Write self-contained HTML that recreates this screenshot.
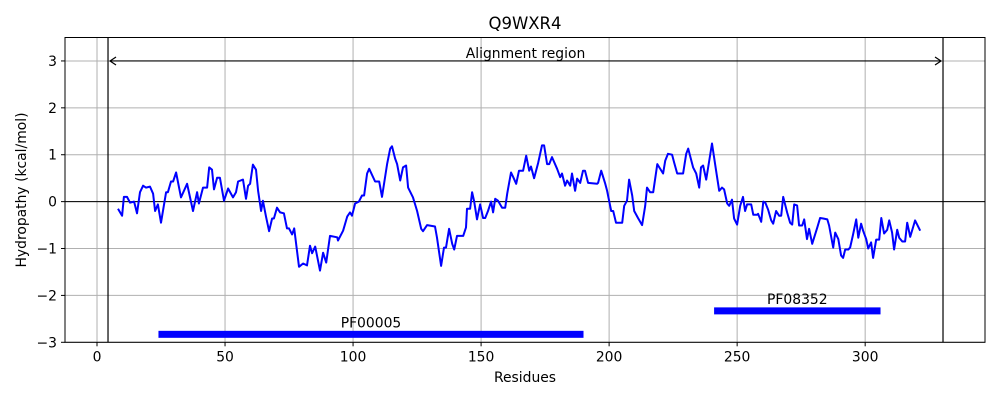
<!DOCTYPE html>
<html><head><meta charset="utf-8"><style>
html,body{margin:0;padding:0;background:#fff;}
svg{display:block;font-family:"DejaVu Sans","Liberation Sans",sans-serif;}
</style></head><body>
<svg id="chart" width="1000" height="400" viewBox="0 0 1000 400"></svg>
<script>
const residues=[8.2,9.8,10.5,11.7,12.9,14.5,15.6,16.8,18,19.1,20.7,21.9,22.7,23.8,25,27,27.7,28.9,29.7,30.9,32.8,35.2,37.5,39.1,39.8,41.4,43,43.8,44.9,45.7,46.9,48,49.6,51.2,53.1,54.3,55.1,57,58.2,59,59.8,60.9,62.1,62.9,64.1,64.8,66,67.2,68.4,69.1,70.3,71.5,73,74.2,75,76.2,77,78.9,80.5,82,83.2,84,85.2,87.1,88.3,89.5,91,93.8,94.1,96.1,97.7,98.8,99.6,100.8,102.3,103.5,104.3,105.5,106.3,108.6,110.2,111.3,113.3,114.5,115.2,116.4,117.2,118.4,119.5,120.7,121.5,123.4,125,126.6,127.3,128.9,132,132.8,134.4,135.5,136.3,137.5,138.7,139.5,140.6,143,144.1,144.5,145.7,146.5,147.3,148.4,149.6,150.8,151.6,152.7,153.9,154.7,155.5,156.6,158.2,159.4,160.2,161.7,162.5,163.7,164.8,166.4,167.6,168.8,169.5,170.7,172.3,173.8,174.6,175.8,176.6,177.7,179.7,180.9,181.6,182.8,183.6,184.8,185.5,186.7,187.5,188.7,189.8,190.6,191.8,195.3,195.7,196.9,198.4,199.2,200.8,201.6,202.7,205.1,205.9,207,207.8,209,209.8,211.3,212.9,214.1,214.8,216,217.2,218.8,221.1,221.9,223,224.6,225.4,226.6,228.9,230.1,230.9,232.8,234,235.2,235.9,236.7,237.9,240.2,241.8,243,244.1,244.9,246.1,246.9,248,248.8,250,251.2,252.3,253.1,253.9,255.5,256.3,257.8,258.2,259.4,260.2,261,262.1,263.3,264.1,265.2,266.4,267.2,268,269.5,270.7,271.5,272.3,273.4,274.2,275.4,276.2,277.3,278.1,279.3,281.3,282.4,283.6,285.2,285.9,287.5,288.3,289.5,290.6,291.4,292.2,293.4,294.1,295.3,296.5,297.3,298.4,299.2,300.4,301.2,302.3,303.1,304.3,305.5,306.3,307.4,308.6,309.4,310.5,311.3,312.5,313.3,314.5,315.6,316.4,317.6,318.8,319.5,321.5];
const hydropathy=[-0.15,-0.3,0.1,0.1,-0.02,0,-0.25,0.2,0.34,0.3,0.32,0.17,-0.2,-0.06,-0.45,0.2,0.2,0.43,0.43,0.62,0.09,0.38,-0.2,0.2,-0.04,0.3,0.3,0.73,0.68,0.26,0.51,0.51,0.02,0.28,0.09,0.2,0.43,0.47,0.06,0.34,0.38,0.79,0.68,0.23,-0.2,0.02,-0.32,-0.63,-0.36,-0.36,-0.13,-0.23,-0.25,-0.57,-0.57,-0.7,-0.57,-1.39,-1.32,-1.36,-0.94,-1.1,-0.96,-1.47,-1.09,-1.3,-0.73,-0.76,-0.83,-0.62,-0.32,-0.23,-0.3,-0.04,0,0.13,0.13,0.6,0.7,0.43,0.43,0.1,0.8,1.13,1.18,0.92,0.8,0.45,0.73,0.77,0.3,0.09,-0.2,-0.58,-0.63,-0.5,-0.53,-0.77,-1.37,-0.98,-0.98,-0.58,-0.9,-1.02,-0.73,-0.73,-0.55,-0.15,-0.15,0.2,0,-0.38,-0.06,-0.35,-0.35,-0.2,0,-0.23,0.06,0.02,-0.13,-0.13,0.17,0.62,0.53,0.38,0.66,0.66,0.98,0.66,0.75,0.5,0.83,1.2,1.2,0.8,0.8,0.95,0.7,0.52,0.6,0.34,0.45,0.34,0.6,0.23,0.49,0.4,0.66,0.66,0.4,0.38,0.4,0.66,0.4,0.23,-0.2,-0.2,-0.45,-0.45,-0.09,0.02,0.47,0.13,-0.2,-0.35,-0.5,-0.09,0.3,0.2,0.2,0.8,0.6,0.87,1.02,1.0,0.83,0.6,0.6,1.02,1.13,0.73,0.6,0.3,0.73,0.77,0.47,1.24,0.66,0.23,0.3,0.26,-0.04,-0.09,0.04,-0.36,-0.49,-0.09,0.1,-0.2,-0.06,-0.06,-0.28,-0.28,-0.26,-0.43,0,-0.02,-0.17,-0.4,-0.47,-0.2,-0.3,-0.3,0.1,-0.23,-0.45,-0.49,-0.06,-0.08,-0.51,-0.51,-0.38,-0.8,-0.58,-0.9,-0.55,-0.35,-0.36,-0.38,-0.51,-0.98,-0.66,-0.8,-1.15,-1.2,-1.02,-1.02,-0.98,-0.7,-0.38,-0.77,-0.47,-0.62,-0.8,-1.0,-0.87,-1.2,-0.81,-0.81,-0.35,-0.68,-0.6,-0.4,-0.66,-1.02,-0.6,-0.77,-0.85,-0.85,-0.45,-0.75,-0.53,-0.4,-0.62];
const xTicks=[0,50,100,150,200,250,300];
const yTicks=[-3,-2,-1,0,1,2,3];
const yTickLabels=["\u22123","\u22122","\u22121","0","1","2","3"];
const domainNames=["PF00005","PF08352"];
const domainStarts=[24,241];
const domainEnds=[190,306];
const domainLevels=[-2.83,-2.33];
const alignStart=4.3;
const alignEnd=330.4;

const L=65,R=985,T=37.5,B=342.3;
const xMin=-12.5,xMax=346.8,yMin=-3,yMax=3.5;
const sx=v=>L+(v-xMin)/(xMax-xMin)*(R-L);
const sy=v=>B-(v-yMin)/(yMax-yMin)*(B-T);
const svg=document.getElementById('chart');
const NS='http://www.w3.org/2000/svg';
function mk(tag,attrs,parent){const e=document.createElementNS(NS,tag);for(const k in attrs)e.setAttribute(k,attrs[k]);(parent||svg).appendChild(e);return e;}

let t=mk('text',{x:525,y:29,'text-anchor':'middle','font-size':16.5,fill:'#000'});t.textContent='Q9WXR4';



const grid=mk('g',{});


xTicks.forEach(v=>{
  const l=mk('line',{x1:sx(v),x2:sx(v),y1:T,y2:B,stroke:'#b0b0b0','stroke-width':1},grid);
  
  
  const k=mk('line',{x1:sx(v),x2:sx(v),y1:B,y2:B+4,stroke:'#000','stroke-width':1});
  
  
  const tx=mk('text',{x:sx(v),y:B+19,'text-anchor':'middle','font-size':13.9,fill:'#000'});
  tx.textContent=String(v);
  
  
});
yTicks.forEach((v,i)=>{
  const l=mk('line',{x1:L,x2:R,y1:sy(v),y2:sy(v),stroke:'#b0b0b0','stroke-width':1},grid);
  
  
  const k=mk('line',{x1:L-4,x2:L,y1:sy(v),y2:sy(v),stroke:'#000','stroke-width':1});
  
  
  const tx=mk('text',{x:L-8,y:sy(v)+5,'text-anchor':'end','font-size':13.9,fill:'#000'});
  tx.textContent=yTickLabels[i];
  
  
});

const z=mk('line',{x1:L,x2:R,y1:sy(0),y2:sy(0),stroke:'#000','stroke-width':1});



[alignStart,alignEnd].forEach(v=>{
  const l=mk('line',{x1:sx(v),x2:sx(v),y1:T,y2:B,stroke:'#000','stroke-width':1.2});
  
  
});
const ay=sy(3);
const arr=mk('g',{stroke:'#000','stroke-width':1.2,fill:'none'});


mk('line',{x1:sx(alignStart)+2,x2:sx(alignEnd)-2,y1:ay,y2:ay},arr);
mk('path',{d:`M${sx(alignStart)+8},${ay-4} L${sx(alignStart)+2},${ay} L${sx(alignStart)+8},${ay+4}`},arr);
mk('path',{d:`M${sx(alignEnd)-8},${ay-4} L${sx(alignEnd)-2},${ay} L${sx(alignEnd)-8},${ay+4}`},arr);
t=mk('text',{x:(sx(alignStart)+sx(alignEnd))/2,y:ay-3,'text-anchor':'middle','font-size':13.9,fill:'#000'});
t.textContent='Alignment region';



domainNames.forEach((n,i)=>{
  const y=sy(domainLevels[i]);
  const r=mk('rect',{x:sx(domainStarts[i]),y:y-3.5,width:sx(domainEnds[i])-sx(domainStarts[i]),height:7,fill:'#0000ff'});
  
  
  const tx=mk('text',{x:(sx(domainStarts[i])+sx(domainEnds[i]))/2,y:y-7,'text-anchor':'middle','font-size':13.9,fill:'#000'});
  tx.textContent=n;
  
  
});

const pts=residues.map((r,i)=>sx(r).toFixed(1)+','+sy(hydropathy[i]).toFixed(1)).join(' ');
const pl=mk('polyline',{points:pts,fill:'none',stroke:'#0000ff','stroke-width':2,'stroke-linejoin':'round'});



const fr=mk('rect',{x:L,y:T,width:R-L,height:B-T,fill:'none',stroke:'#000','stroke-width':1});



t=mk('text',{x:525,y:382,'text-anchor':'middle','font-size':13.9,fill:'#000'});t.textContent='Residues';


t=mk('text',{x:0,y:0,'text-anchor':'middle','font-size':13.9,fill:'#000',transform:'translate(26,190) rotate(-90)'});t.textContent='Hydropathy (kcal/mol)';


</script>
</body></html>
